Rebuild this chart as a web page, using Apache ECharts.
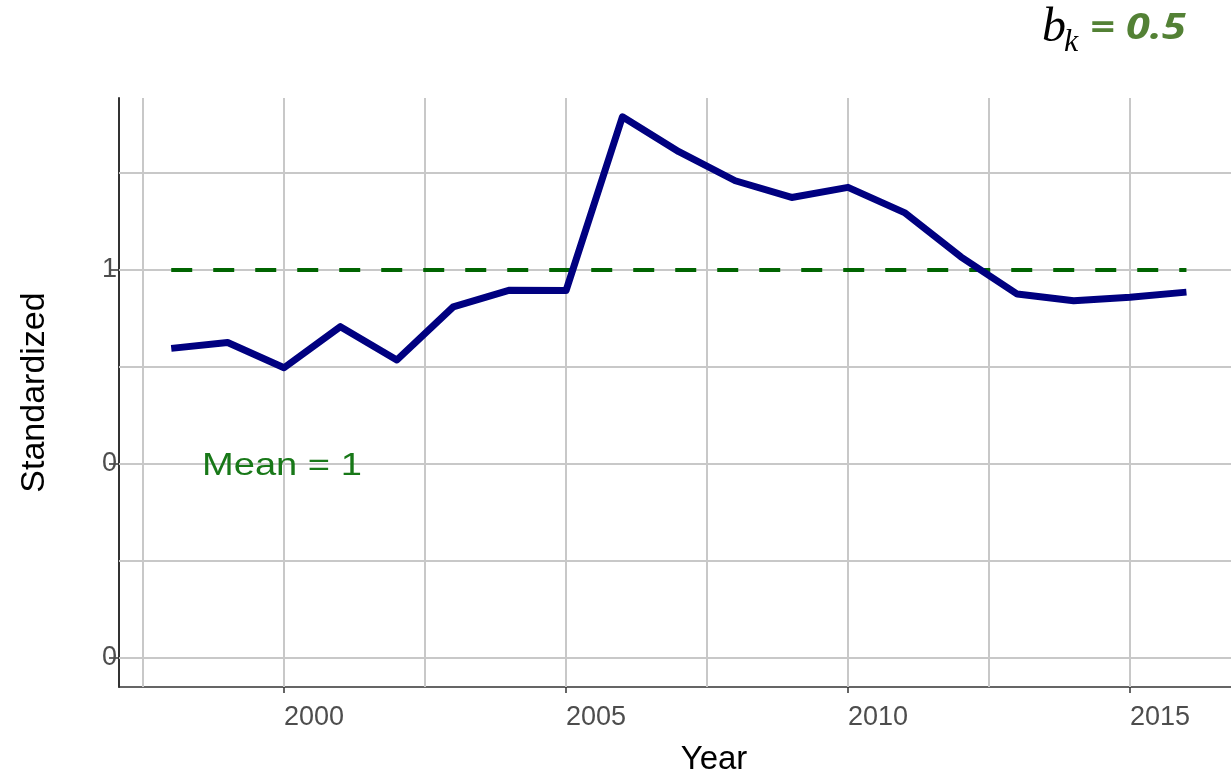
<!DOCTYPE html>
<html>
<head>
<meta charset="utf-8">
<script src="https://cdn.jsdelivr.net/npm/echarts@6/dist/echarts.min.js"></script>
<style>html,body{margin:0;padding:0;background:#fff}#c{width:1231px;height:774px}</style>
</head>
<body>
<div id="c"></div>
<script>
const years = [1998,1999,2000,2001,2002,2003,2004,2005,2006,2007,2008,2009,2010,2011,2012,2013,2014,2015,2016];
const standardized = [0.798,0.813,0.748,0.854,0.768,0.905,0.948,0.947,1.395,1.305,1.230,1.187,1.213,1.148,1.034,0.938,0.921,0.930,0.943];
const meanValue = 1;
const xTickValues = [2000,2005,2010,2015];
const yTickValues = [0,0.5,1];
const yTickLabels = ["0","0","1"];
const xGridValues = [1997.5,2000,2002.5,2005,2007.5,2010,2012.5,2015];
const yGridValues = [0,0.25,0.5,0.75,1,1.25];

const FONT = "'Liberation Sans', Arial, sans-serif";
const SERIF = "'Liberation Serif', 'DejaVu Serif', serif";
const chart = echarts.init(document.getElementById('c'), null, {renderer:'canvas'});

const lineData = years.map((y,i)=>[y, standardized[i]]);
const meanData = [[years[0], meanValue],[years[years.length-1], meanValue]];

chart.setOption({
  animation:false,
  backgroundColor:'#fff',
  grid:{left:119, right:0, top:98, bottom:87, containLabel:false, outerBoundsMode:'none'},
  xAxis:{
    type:'value', min:1997.074, max:2016.79,
    name:'Year', nameLocation:'middle', nameGap:56,
    nameTextStyle:{fontFamily:FONT, fontSize:33, color:'#000', padding:[0,0,0,78]},
    axisLine:{onZero:false, lineStyle:{color:'#333', width:1.5}},
    axisTick:{show:true, customValues:xTickValues, length:6, lineStyle:{color:'#333', width:1.5}},
    axisLabel:{customValues:xTickValues, align:'left', margin:17, fontFamily:FONT, fontSize:27, color:'#4d4d4d',
      formatter:v=>String(v)},
    splitLine:{show:false}
  },
  yAxis:{
    type:'value', min:-0.0747, max:1.4433,
    name:'Standardized', nameLocation:'middle', nameGap:67, nameRotate:90,
    nameTextStyle:{fontFamily:FONT, fontSize:34, color:'#000'},
    axisLine:{show:true, onZero:false, lineStyle:{color:'#333', width:2}},
    axisTick:{show:true, customValues:yTickValues, length:10, lineStyle:{color:'#333', width:1.5}},
    axisLabel:{customValues:yTickValues, margin:2, fontFamily:FONT, fontSize:27, color:'#4d4d4d',
      formatter:v=>{const i=yTickValues.findIndex(t=>Math.abs(t-v)<1e-9);return i>=0?yTickLabels[i]:'';}},
    splitLine:{show:false}
  },
  series:[
    {
      type:'line', data:[], z:1, silent:true,
      markLine:{
        z:1, silent:true, symbol:'none', animation:false,
        label:{show:false},
        lineStyle:{type:'solid', color:'#c8c8c8', width:2},
        data:[...xGridValues.map(v=>({xAxis:v})), ...yGridValues.map(v=>({yAxis:v}))]
      }
    },
    {
      type:'line', data:meanData, z:3, symbol:'none', silent:true,
      lineStyle:{color:'#006400', width:4, type:[21,21]}
    },
    {
      type:'line', data:lineData, z:4, symbol:'none', silent:true,
      lineStyle:{color:'#000080', width:7, join:'round'}
    }
  ],
  graphic:[
    {type:'text', x:202, y:450, scaleX:1.19, z:10,
     style:{text:'Mean = 1', fontFamily:FONT, fontSize:32, fill:'#187818'}},
    {type:'text', x:1042, y:4, z:10,
     style:{text:'b', fontFamily:SERIF, fontStyle:'italic', fontSize:48, fill:'#000'}},
    {type:'text', x:1064, y:27, z:10,
     style:{text:'k', fontFamily:SERIF, fontStyle:'italic', fontSize:32, fill:'#000'}},
    {type:'text', x:1090, y:11, scaleX:1.2, z:10,
     style:{text:'= 0.5', fontFamily:"'Open Sans', sans-serif", fontStyle:'italic', fontWeight:'bold', fontSize:36, fill:'#538135'}}
  ]
});
</script>
</body>
</html>
